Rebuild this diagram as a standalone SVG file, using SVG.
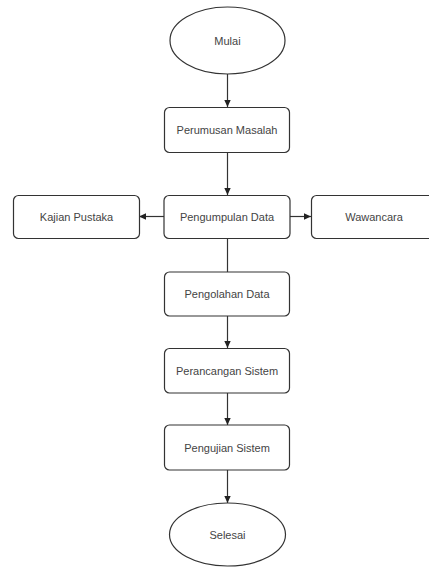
<svg xmlns="http://www.w3.org/2000/svg" width="429" height="567" viewBox="0 0 429 567">
<style>
.n{fill:#fff;stroke:#333;stroke-width:1.2}
.t{font-family:"Liberation Sans",Arial,sans-serif;font-size:11px;fill:#444;text-anchor:middle;dominant-baseline:central}
.c{fill:none;stroke:#333;stroke-width:1.2}
</style>
<defs>
<marker id="ah" markerWidth="8" markerHeight="8" refX="7" refY="4" orient="auto" markerUnits="userSpaceOnUse">
<path d="M0,0.8 L7,4 L0,7.2 Z" fill="#222"/>
</marker>
</defs>
<rect width="429" height="567" fill="#fff"/>
<g id="connectors">
<line class="c" x1="227.5" y1="74" x2="227.5" y2="107" marker-end="url(#ah)"/>
<line class="c" x1="227.5" y1="152" x2="227.5" y2="195" marker-end="url(#ah)"/>
<line class="c" x1="164" y1="216.5" x2="139" y2="216.5" marker-end="url(#ah)"/>
<line class="c" x1="290" y1="216.5" x2="311" y2="216.5" marker-end="url(#ah)"/>
<line class="c" x1="227.5" y1="238" x2="227.5" y2="272"/>
<line class="c" x1="227.5" y1="316" x2="227.5" y2="348" marker-end="url(#ah)"/>
<line class="c" x1="227.5" y1="393" x2="227.5" y2="425" marker-end="url(#ah)"/>
<line class="c" x1="227.5" y1="470" x2="227.5" y2="503" marker-end="url(#ah)"/>
</g>
<g id="mulai"><ellipse class="n" cx="227.5" cy="40.5" rx="57.5" ry="33.5"/><text class="t" x="227.5" y="40.5">Mulai</text></g>
<g id="perumusan"><rect class="n" x="164.5" y="107.5" width="125" height="45" rx="5"/><text class="t" x="227" y="129.5">Perumusan Masalah</text></g>
<g id="pengumpulan"><rect class="n" x="164" y="195.5" width="126" height="43" rx="5"/><text class="t" x="227" y="216.5">Pengumpulan Data</text></g>
<g id="kajian"><rect class="n" x="13.5" y="195.5" width="126" height="43" rx="5"/><text class="t" x="76.5" y="216.5">Kajian Pustaka</text></g>
<g id="wawancara"><rect class="n" x="311.5" y="195.5" width="126" height="43" rx="5"/><text class="t" x="374" y="216.5">Wawancara</text></g>
<g id="pengolahan"><rect class="n" x="164.5" y="272" width="125" height="44" rx="5"/><text class="t" x="227" y="294">Pengolahan Data</text></g>
<g id="perancangan"><rect class="n" x="164.5" y="348.5" width="125" height="44.5" rx="5"/><text class="t" x="227" y="370.5">Perancangan Sistem</text></g>
<g id="pengujian"><rect class="n" x="164.5" y="425" width="125" height="45" rx="5"/><text class="t" x="227" y="447.5">Pengujian Sistem</text></g>
<g id="selesai"><ellipse class="n" cx="227.5" cy="534.5" rx="58" ry="31.5"/><text class="t" x="227.5" y="534.5">Selesai</text></g>
</svg>
